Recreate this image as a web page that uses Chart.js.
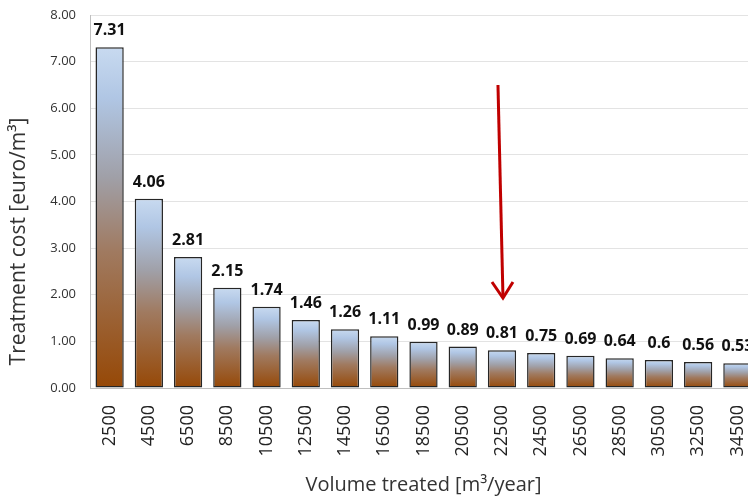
<!DOCTYPE html>
<html><head><meta charset="utf-8">
<script src="https://cdn.jsdelivr.net/npm/chart.js@4/dist/chart.umd.min.js"></script>
<style>html,body{margin:0;padding:0;overflow:hidden;background:#fff;width:748px;height:498px}#wrap{width:757px;height:498px}</style>
</head><body><div id="wrap"><canvas id="c" width="757" height="498"></canvas></div>
<script>
const categories = ["2500","4500","6500","8500","10500","12500","14500","16500","18500","20500","22500","24500","26500","28500","30500","32500","34500"];
const costValues = [7.31,4.06,2.81,2.15,1.74,1.46,1.26,1.11,0.99,0.89,0.81,0.75,0.69,0.64,0.6,0.56,0.53];
const yTicks = [0,1,2,3,4,5,6,7,8];
const yTitle = 'Treatment cost [euro/m³]';
const xTitle = 'Volume treated [m³/year]';
const arrowCategory = 10, arrowFrom = 6.5, arrowTo = 1.93;

const FONT = "'Open Sans', sans-serif";

function barGradient(ctx) {
  const chart = ctx.chart;
  const ys = chart.scales.y;
  if (!ys || ctx.type !== 'data') return '#c5d9f1';
  const top = ys.getPixelForValue(costValues[ctx.dataIndex]);
  const bot = ys.getPixelForValue(0);
  if (!isFinite(top) || !isFinite(bot) || top === bot) return '#c5d9f1';
  const g = chart.ctx.createLinearGradient(0, top, 0, bot);
  g.addColorStop(0, '#c8daf0');
  g.addColorStop(0.15, '#b0c6e4');
  g.addColorStop(0.38, '#a0a0a8');
  g.addColorStop(0.6, '#a07a60');
  g.addColorStop(1, '#964806');
  return g;
}

const labelPlugin = {
  id: 'vals',
  afterDatasetsDraw(chart) {
    const c = chart.ctx;
    const meta = chart.getDatasetMeta(0);
    c.save();
    c.font = "bold 16px " + FONT;
    c.fillStyle = '#111';
    c.textAlign = 'center';
    c.textBaseline = 'alphabetic';
    meta.data.forEach((el, i) => {
      c.fillText(String(costValues[i]), el.x, el.y - 12);
    });
    // y axis title
    c.save();
    c.font = "21px " + FONT;
    c.fillStyle = '#333';
    c.textAlign = 'center';
    c.textBaseline = 'middle';
    c.translate(19, (chart.chartArea.top + chart.chartArea.bottom) / 2 + 40);
    c.rotate(-Math.PI / 2);
    c.fillText(yTitle, 0, 0);
    c.restore();
    // arrow
    const xs = chart.scales.x, ys = chart.scales.y;
    const cx = xs.getPixelForValue(arrowCategory);
    const y1 = ys.getPixelForValue(arrowFrom), y2 = ys.getPixelForValue(arrowTo);
    c.strokeStyle = '#c00000';
    c.lineWidth = 3;
    c.lineCap = 'butt';
    c.beginPath();
    c.moveTo(cx - 4, y1);
    c.lineTo(cx + 1, y2 - 1);
    c.stroke();
    c.beginPath();
    c.moveTo(cx - 10, y2 - 16);
    c.lineTo(cx + 1, y2);
    c.lineTo(cx + 11, y2 - 16);
    c.stroke();
    c.restore();
  }
};

new Chart(document.getElementById('c'), {
  type: 'bar',
  data: {
    labels: categories,
    datasets: [{
      data: costValues,
      backgroundColor: barGradient,
      borderColor: '#262626',
      borderWidth: 1.5,
      borderSkipped: false,
      categoryPercentage: 1,
      barPercentage: 0.72
    }]
  },
  options: {
    responsive: false,
    animation: false,
    layout: { padding: { top: 15, right: 0, left: 0, bottom: 0 } },
    plugins: { legend: { display: false }, tooltip: { enabled: false } },
    scales: {
      x: {
        grid: { display: false },
        border: { color: '#bfbfbf', width: 1 },
        ticks: { minRotation: 90, maxRotation: 90, autoSkip: false, padding: 9, color: '#222', font: { family: FONT, size: 18 } },
        title: { display: true, text: xTitle, color: '#333', font: { family: FONT, size: 20 }, padding: { top: 0, bottom: 1 } },
        afterFit(s) { s.height = 110; s.paddingLeft = 0; s.paddingRight = 0; s.paddingTop = 0; s.paddingBottom = 0; }
      },
      y: {
        min: 0, max: 8,
        afterBuildTicks(s) { s.ticks = yTicks.map(v => ({ value: v })); },
        grid: { color: '#e3e3e3', lineWidth: 1, drawTicks: false },
        border: { color: '#bfbfbf', width: 1 },
        ticks: { padding: 14, color: '#333', font: { family: FONT, size: 13 }, callback: v => Number(v).toFixed(2) },
        title: { display: false },
        afterFit(s) { s.width = 90; s.paddingTop = 0; s.paddingBottom = 0; s.paddingLeft = 0; s.paddingRight = 0; }
      }
    }
  },
  plugins: [labelPlugin]
});
</script></body></html>
